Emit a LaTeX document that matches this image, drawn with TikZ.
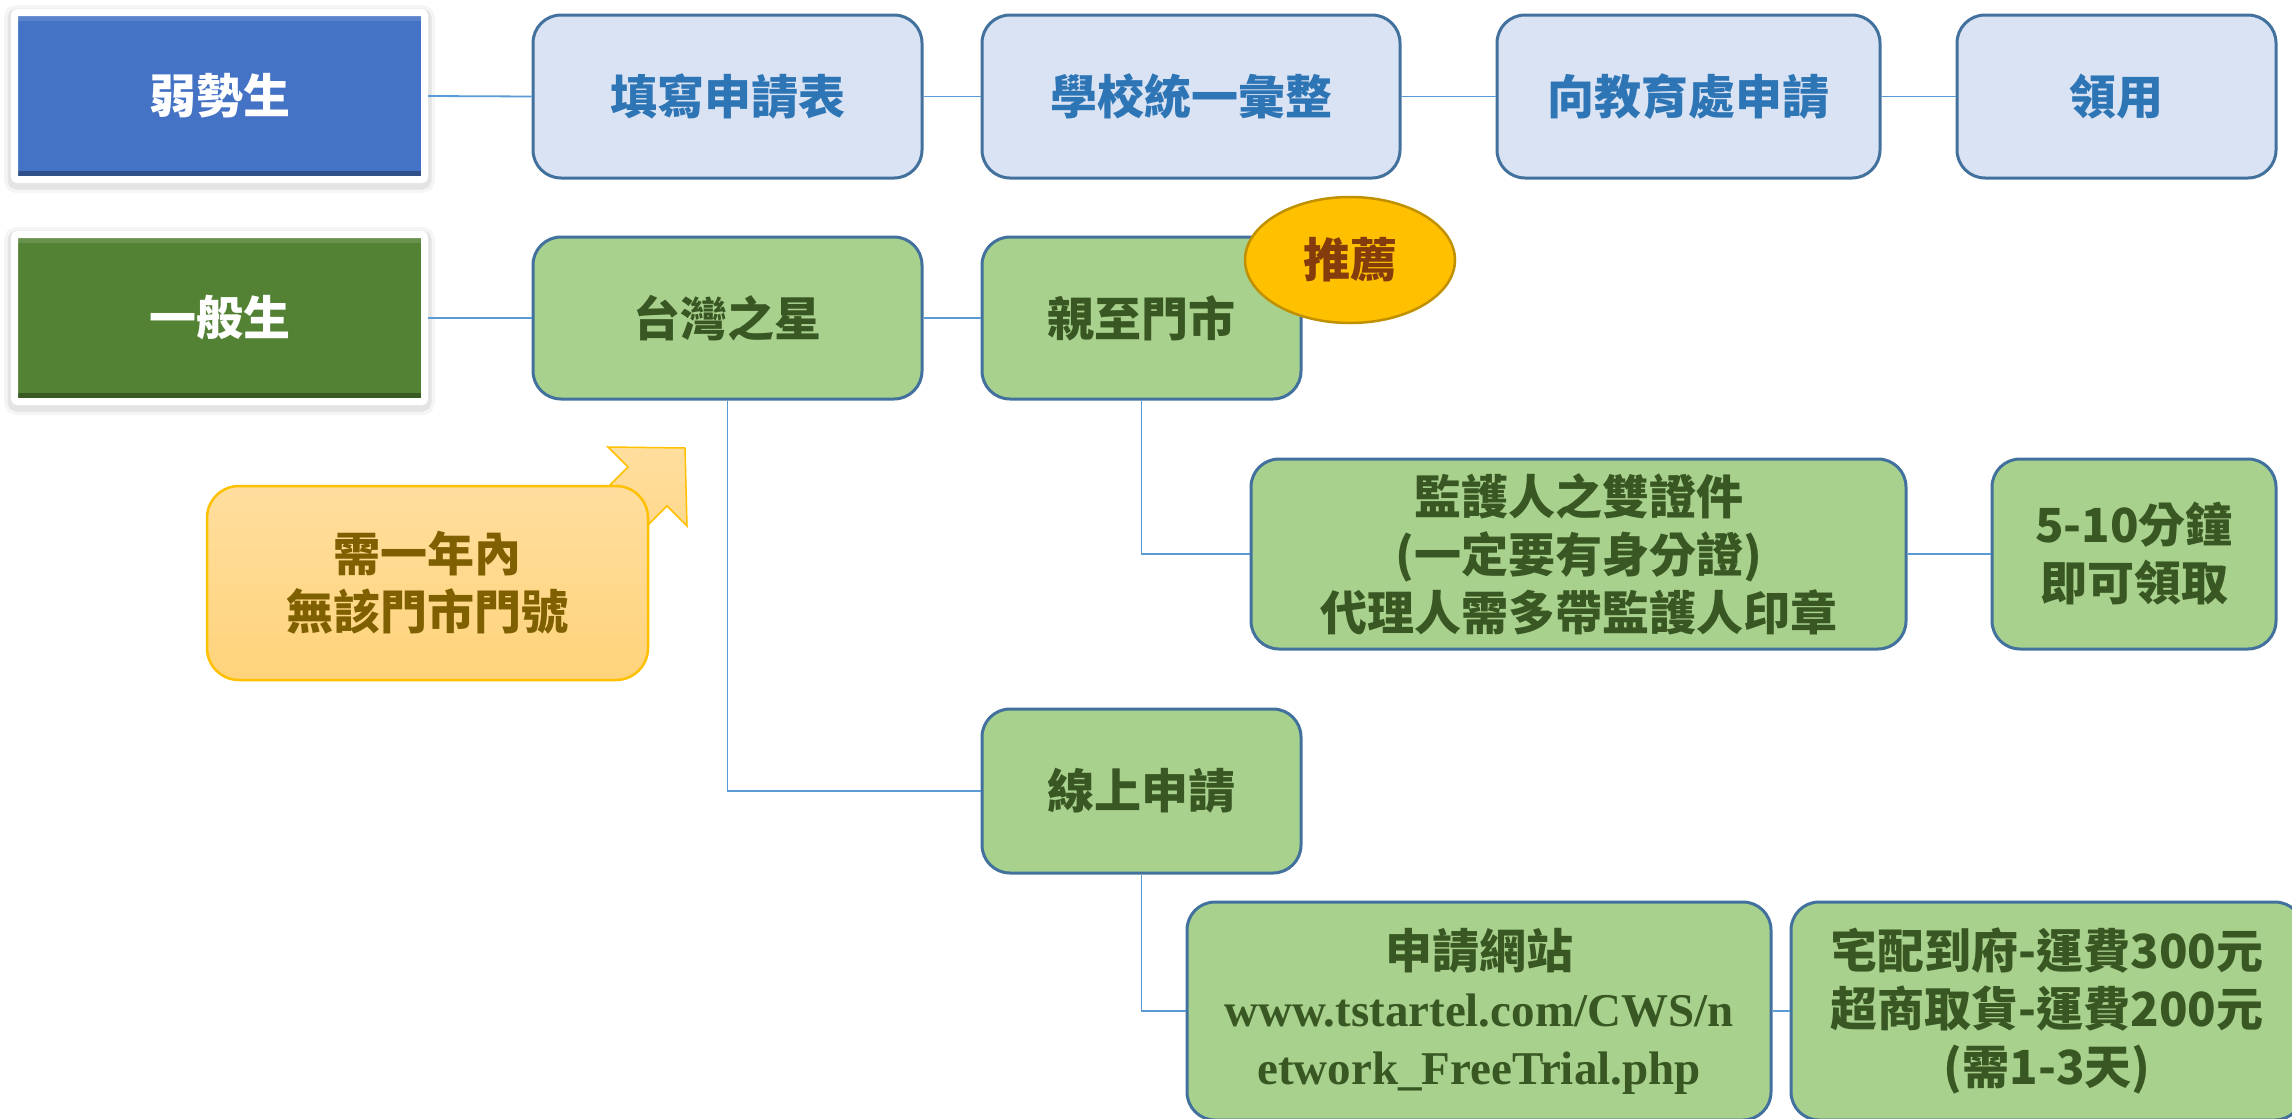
\documentclass[tikz,border=0pt]{standalone}
\usepackage{fontspec}
\setmainfont{Noto Sans CJK TC}
\newfontfamily\urlfont{Liberation Serif}
\usepackage{tikz}
\usetikzlibrary{shapes.geometric,calc}

\definecolor{weakblue}{HTML}{4472C4}
\definecolor{generalgreen}{HTML}{548235}
\definecolor{paleblue}{HTML}{DAE3F3}
\definecolor{boxline}{HTML}{41719C}
\definecolor{bluetext}{HTML}{2E75B6}
\definecolor{palegreen}{HTML}{A9D18E}
\definecolor{greentext}{HTML}{385723}
\definecolor{linkblue}{HTML}{5B9BD5}
\definecolor{gold}{HTML}{FFC000}
\definecolor{goldline}{HTML}{BF9000}
\definecolor{browntext}{HTML}{843C0C}
\definecolor{notetop}{HTML}{FFDE9E}
\definecolor{notebottom}{HTML}{FFD37B}
\definecolor{notetext}{HTML}{7F6000}

\newcommand\boxfont{\fontsize{47}{58}\selectfont\bfseries}

\begin{document}
\begin{tikzpicture}[x=1pt,y=1pt,yscale=-1,
    group/.style={draw=white, line width=7pt, rounded corners=3pt, inner sep=0pt,
        minimum width=410pt, minimum height=167pt, text=white, font=\boxfont,
        preaction={draw=black, draw opacity=0.04, line width=21pt, transform canvas={yshift=-3pt}},
        preaction={draw=black, draw opacity=0.07, line width=14pt, transform canvas={yshift=-3pt}},
        path picture={
            \fill[black, opacity=0.3] (path picture bounding box.south west) rectangle
                ($(path picture bounding box.south east)!0.05!(path picture bounding box.north east)$);
            \fill[white, opacity=0.12] (path picture bounding box.north west) rectangle
                ($(path picture bounding box.north east)!0.05!(path picture bounding box.south east)$);
        }},
    stepbox/.style={draw=boxline, line width=3pt, rounded corners=28pt, inner sep=0pt,
        fill=paleblue, text=bluetext, font=\boxfont, align=center},
    greenbox/.style={draw=boxline, line width=3pt, rounded corners=28pt, inner sep=0pt,
        fill=palegreen, text=greentext, font=\boxfont, align=center},
    link/.style={draw=linkblue, line width=1.8pt}]
    \useasboundingbox (0,0) rectangle (2292,1119);

    %Row: 弱勢生
    \node[group, fill=weakblue] (weak) at (219.5,96) {弱勢生};
    \node[stepbox, minimum width=389pt, minimum height=163pt] (form) at (727.5,96.5) {填寫申請表};
    \node[stepbox, minimum width=418pt, minimum height=163pt] (school) at (1191,96.5) {學校統一彙整};
    \node[stepbox, minimum width=383pt, minimum height=163pt] (bureau) at (1688.5,96.5) {向教育處申請};
    \node[stepbox, minimum width=319pt, minimum height=163pt] (collect) at (2116.5,96.5) {領用};

    %Row: 一般生
    \node[group, fill=generalgreen] (general) at (219.5,318) {一般生};
    \node[greenbox, minimum width=389pt, minimum height=162pt] (star) at (727.5,318) {台灣之星};
    \node[greenbox, minimum width=319pt, minimum height=162pt] (store) at (1141.5,318) {親至門市};
    \node[greenbox, minimum width=655pt, minimum height=190pt] (docs) at (1578.5,554)
        {監護人之雙證件\\(一定要有身分證)\\代理人需多帶監護人印章};
    \node[greenbox, minimum width=284pt, minimum height=190pt] (quick) at (2134,554) {5-10分鐘\\即可領取};
    \node[greenbox, minimum width=319pt, minimum height=164pt] (online) at (1141.5,791) {線上申請};
    \node[greenbox, minimum width=584pt, minimum height=218pt] (site) at (1479,1011)
        {申請網站\\{\urlfont\bfseries www.tstartel.com/CWS/n}\\{\urlfont\bfseries etwork\_FreeTrial.php}};
    \node[greenbox, minimum width=512pt, minimum height=218pt] (ship) at (2047,1011)
        {宅配到府-運費300元\\超商取貨-運費200元\\(需1-3天)};

    %Connectors
    \draw[link] (weak.east) -- (form.west);
    \draw[link] (form.east) -- (school.west);
    \draw[link] (school.east) -- (bureau.west);
    \draw[link] (bureau.east) -- (collect.west);
    \draw[link] (general.east) -- (star.west);
    \draw[link] (star.east) -- (store.west);
    \draw[link] (store.south) |- (docs.west);
    \draw[link] (docs.east) -- (quick.west);
    \draw[link] (star.south) |- (online.west);
    \draw[link] (online.south) |- (site.west);
    \draw[link] (site.east) -- (ship.west);

    %Badge
    \node[ellipse, draw=goldline, line width=2.5pt, fill=gold, inner sep=0pt,
        minimum width=210pt, minimum height=126pt, text=browntext, font=\boxfont] (pick) at (1350,260) {推薦};

    %Shape: note with arrow
    \draw[draw=gold, line width=1.5pt, top color=notetop, bottom color=notebottom]
        (628,467) -- (608,447) -- (685,448) -- (687,526) -- (667,506) -- (560,613) -- (521,574) -- cycle;
    \node[draw=gold, line width=2.5pt, rounded corners=32pt, inner sep=0pt,
        top color=notetop, bottom color=notebottom, text=notetext, font=\boxfont, align=center,
        minimum width=441pt, minimum height=194pt] (note) at (427.5,583) {需一年內\\無該門市門號};
\end{tikzpicture}
\end{document}
